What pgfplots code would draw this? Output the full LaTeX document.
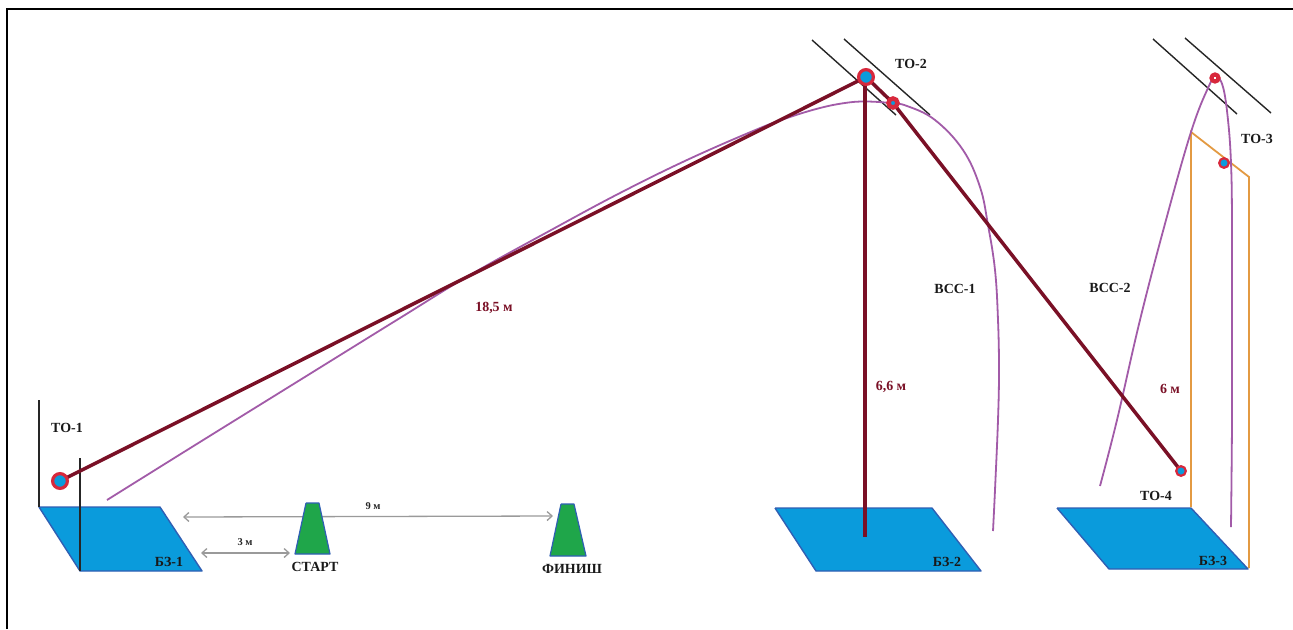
\documentclass[border=0pt]{standalone}
\usepackage{fontspec}
\setmainfont{Liberation Serif}
\usepackage{pgfplots}
\pgfplotsset{compat=1.18}
\usetikzlibrary{arrows.meta}

\definecolor{rope}{HTML}{7A1026}
\definecolor{track}{HTML}{A25BA8}
\definecolor{zone}{HTML}{0A9BDC}
\definecolor{zoneedge}{HTML}{2F5FB4}
\definecolor{cone}{HTML}{1FA64A}
\definecolor{ring}{HTML}{D8283C}
\definecolor{frameo}{HTML}{E39A42}
\definecolor{arrowgray}{HTML}{9A9A9A}

\tikzset{
    zonepoly/.style={fill=zone, draw=zoneedge, line width=1.4bp, line join=round},
    conepoly/.style={fill=cone, draw=zoneedge, line width=1.2bp, line join=round},
    ropeline/.style={draw=rope, line width=3.5bp, line join=round},
    trackline/.style={draw=track, line width=1.8bp, smooth, tension=0.65},
    stand/.style={draw=black!85, line width=1.4bp},
    lbl/.style={font=\fontsize{14}{16}\selectfont\bfseries, text=black!90, inner sep=0pt},
    dist/.style={font=\fontsize{14}{16}\selectfont\bfseries, text=rope, inner sep=0pt},
    small/.style={font=\fontsize{10.5}{12}\selectfont\bfseries, text=black!85, inner sep=0pt},
    gapline/.style={draw=arrowgray, line width=1.3bp, {Straight Barb[length=5bp,width=9bp]}-{Straight Barb[length=5bp,width=9bp]}},
}

\begin{document}
\begin{tikzpicture}
\begin{axis}[
    scale only axis,
    width=1293bp, height=629bp,
    xmin=0, xmax=1293, ymin=0, ymax=629,
    y dir=reverse,
    hide axis,
    clip=true,
]
% white sheet, keeps the page at the full size with the axis hidden
\addplot[fill=white, draw=none] coordinates {(0,0) (1293,0) (1293,629) (0,629) (0,0)};

% outer frame, only top and left are inside the picture
\addplot[draw=black, line width=2.2bp] coordinates {(7,629) (7,9) (1293,9)};

% landing zones
\addplot[zonepoly] coordinates {(39,507) (160,507) (202,571) (80,571) (39,507)};
\addplot[zonepoly] coordinates {(775,508) (932,508) (981,571) (816,571) (775,508)};
\addplot[zonepoly] coordinates {(1057,508) (1191,508) (1248,569) (1109,569) (1057,508)};

% distance arrows go under the cones
\addplot[gapline] coordinates {(183,517) (553,516)};
\addplot[gapline] coordinates {(201,553) (290,553)};

% start, finish
\addplot[conepoly] coordinates {(306,503) (319,503) (330,554) (295,554) (306,503)};
\addplot[conepoly] coordinates {(561,504) (574,504) (586,556) (550,556) (561,504)};

% orange frame at TO-3
\addplot[draw=frameo, line width=1.8bp] coordinates {(1191,507) (1191,132) (1249,177) (1249,568)};

% black stands
\addplot[stand] coordinates {(39,400) (39,507)};
\addplot[stand] coordinates {(80,458) (80,571)};
\addplot[stand] coordinates {(812,40) (896,115)};
\addplot[stand] coordinates {(844,39) (930,115)};
\addplot[stand] coordinates {(1153,39) (1237,114)};
\addplot[stand] coordinates {(1185,38) (1271,113)};

% flight paths
\addplot[trackline] coordinates {
    (107,500) (200,442) (300,380) (400,318) (470,275) (553,229) (620,193) (687,160)
    (753,131) (787,118) (820,108) (845,103) (865,101.5) (890,103) (907,106) (935,120)
    (963,150) (980,187) (988,225) (995,270) (998,320) (999,370)
    (998,420) (995,490) (993,531)
};
\addplot[trackline] coordinates {
    (1100,486) (1117,420) (1140,320) (1166,220) (1191,132) (1208,88) (1216,77)
    (1223,87) (1228,120) (1231,163) (1232,220) (1232,320) (1232,420) (1231,527)
};

% ropes
\addplot[ropeline] coordinates {(60,481) (866,77)};
\addplot[ropeline] coordinates {(865,77) (865,537)};
\addplot[ropeline] coordinates {(866,77) (893,103) (1181,471)};

% anchor points
\addplot[only marks, mark=*, mark size=7.4bp, mark options={draw=ring, fill=zone, line width=3.2bp}] coordinates {(60,481) (866,77)};
\addplot[only marks, mark=*, mark size=4.8bp, mark options={draw=ring, fill=zone, line width=2.2bp}] coordinates {(1181,471) (1224,163)};
\addplot[only marks, mark=*, mark size=4.5bp, mark options={draw=ring, fill=zone, line width=4.5bp}] coordinates {(893,103)};
\addplot[only marks, mark=*, mark size=5.2bp, mark options={draw=ring, fill=ring, line width=1bp}] coordinates {(1215,78)};
\addplot[only marks, mark=*, mark size=0.7bp, mark options={draw=white, fill=white, line width=0bp}] coordinates {(1215,78)};

% labels
\node[lbl] at (axis cs:67,428) {ТО-1};
\node[lbl] at (axis cs:911,64) {ТО-2};
\node[lbl] at (axis cs:1257,139) {ТО-3};
\node[lbl] at (axis cs:1156,496) {ТО-4};
\node[lbl] at (axis cs:169,562) {БЗ-1};
\node[lbl] at (axis cs:947,562) {БЗ-2};
\node[lbl] at (axis cs:1213,561) {БЗ-3};
\node[lbl] at (axis cs:315,567) {СТАРТ};
\node[lbl] at (axis cs:572,569) {ФИНИШ};
\node[lbl] at (axis cs:955,289) {ВСС-1};
\node[lbl] at (axis cs:1110,288) {ВСС-2};
\node[dist] at (axis cs:494,308) {18,5 м};
\node[dist] at (axis cs:891,387) {6,6 м};
\node[dist] at (axis cs:1170,389) {6 м};
\node[small] at (axis cs:245,542) {3 м};
\node[small] at (axis cs:373,506) {9 м};
\end{axis}
\end{tikzpicture}
\end{document}
